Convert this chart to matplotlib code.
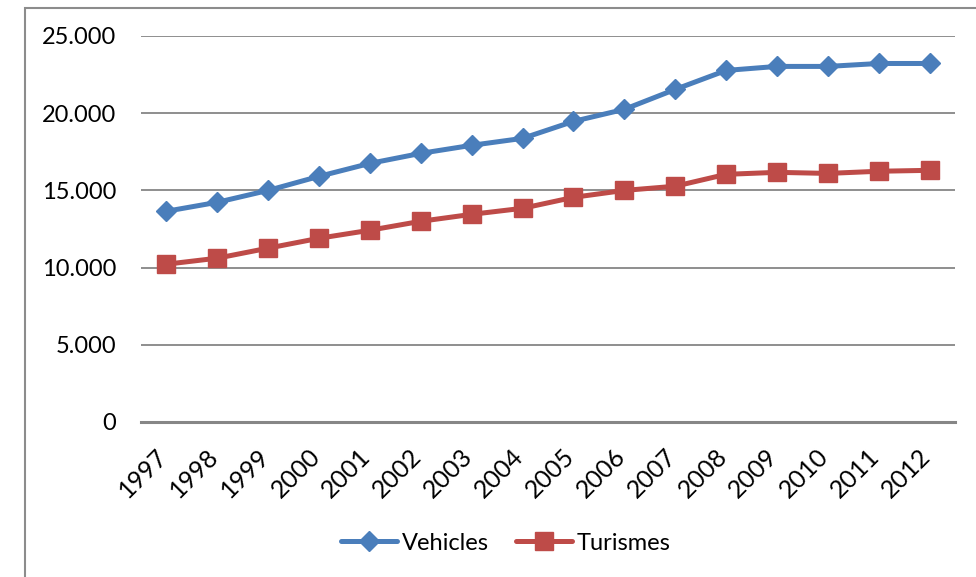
import matplotlib
matplotlib.use("Agg")
import matplotlib.pyplot as plt
from matplotlib.patches import Rectangle
from matplotlib.ticker import FuncFormatter, MultipleLocator
from matplotlib.transforms import ScaledTranslation

# Parc de vehicles, 1997-2012
years = ['1997', '1998', '1999', '2000', '2001', '2002', '2003', '2004',
         '2005', '2006', '2007', '2008', '2009', '2010', '2011', '2012']
vehicles = [13650, 14230, 15000, 15910, 16750, 17400, 17920, 18370,
            19470, 20250, 21540, 22770, 23030, 23030, 23220, 23220]
turismes = [10220, 10610, 11260, 11900, 12420, 13000, 13450, 13840,
            14550, 15000, 15270, 16040, 16170, 16100, 16240, 16300]

plt.rcParams['font.family'] = ['Lato', 'DejaVu Sans']
FS = 17

fig = plt.figure(figsize=(9.76, 5.77), dpi=100)
ax = fig.add_axes([141/976, 1 - 422/577, (955 - 141)/976, (422 - 36)/577])

# chart frame (only left and top edges fall inside the image)
fig.patches.append(Rectangle((25/976, -0.1), 1.2, 1 - 8/577 + 0.1,
                             transform=fig.transFigure, fill=False,
                             edgecolor='#8c8c8c', linewidth=1.5, zorder=0))

x = list(range(len(years)))
ax.plot(x, vehicles, color='#4A7EBB', lw=3.6, marker='D', markersize=10.5,
        label='Vehicles', solid_capstyle='round', zorder=3)
ax.plot(x, turismes, color='#BE4B48', lw=3.6, marker='s', markersize=13,
        label='Turismes', solid_capstyle='round', zorder=3)

ax.set_xlim(-0.5, len(years) - 0.5)
ax.set_ylim(0, 25000)
ax.yaxis.set_major_locator(MultipleLocator(5000))
ax.yaxis.set_major_formatter(FuncFormatter(lambda v, p: f'{int(v):,}'.replace(',', '.')))
ax.grid(axis='y', color='#868686', lw=1.3)
ax.set_axisbelow(True)

for s in ['left', 'right', 'top']:
    ax.spines[s].set_visible(False)
ax.spines['bottom'].set_color('#868686')
ax.spines['bottom'].set_linewidth(2.2)

ax.set_xticks(x)
ax.set_xticklabels(years, rotation=45, ha='right', va='top',
                   rotation_mode='anchor', fontsize=18)
ax.tick_params(axis='x', length=0, pad=14)
ax.tick_params(axis='y', length=0, pad=18, labelsize=FS)

# pull the slanted year labels back so they end under each point
shift = ScaledTranslation(-11/100, -3/100, fig.dpi_scale_trans)
for lbl in ax.get_xticklabels():
    lbl.set_transform(lbl.get_transform() + shift)

fig.legend(loc='center', bbox_to_anchor=(506/976, 1 - 543/577), ncol=2,
           frameon=False, fontsize=FS, handlelength=2.35, columnspacing=1.15,
           handletextpad=0.22)

fig.savefig('out.png', dpi=100)
